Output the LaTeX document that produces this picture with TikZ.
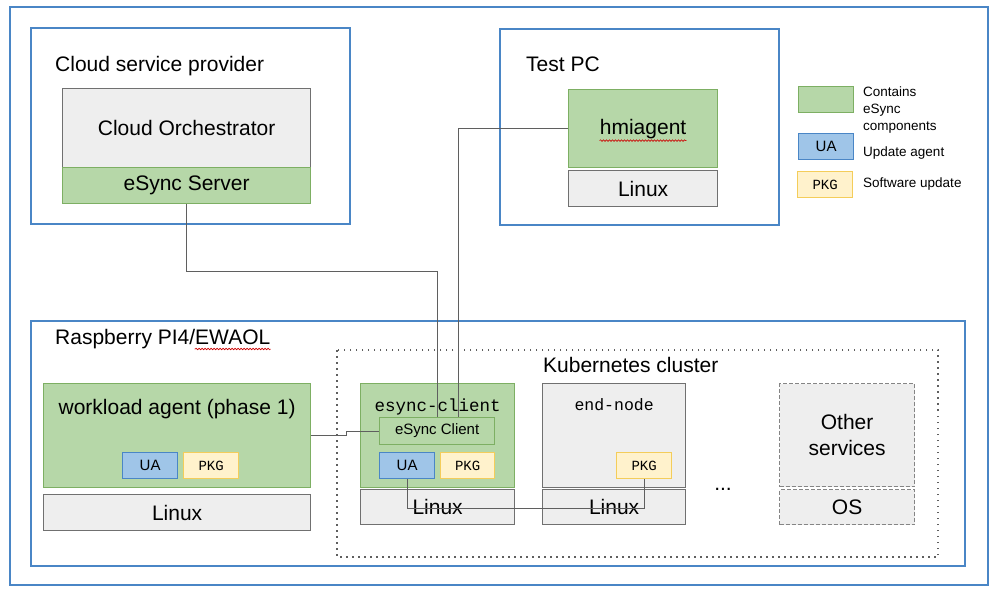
\documentclass[tikz,border=0pt]{standalone}
\usepackage{fontspec}
\setmainfont{Liberation Sans}
\setmonofont{Liberation Mono}
\usetikzlibrary{positioning,decorations.pathmorphing}
\definecolor{frameblue}{HTML}{4A86C6}
\definecolor{grnfill}{HTML}{B6D7A8}
\definecolor{grnline}{HTML}{7DAF63}
\definecolor{gryfill}{HTML}{EEEEEE}
\definecolor{gryline}{HTML}{707070}
\definecolor{uafill}{HTML}{9FC5E8}
\definecolor{ualine}{HTML}{4A86C6}
\definecolor{pkgfill}{HTML}{FFF2CC}
\definecolor{pkgline}{HTML}{F4CD5A}
\definecolor{wiregray}{HTML}{5F5F5F}

\begin{document}
\begin{tikzpicture}[x=1pt, y=-1pt,
    frame/.style={draw=frameblue, line width=2pt},
    blk/.style={anchor=north west, inner sep=0pt, line width=1.2pt, font=\fontsize{21}{25.7}\selectfont},
    grn/.style={blk, draw=grnline, fill=grnfill},
    gry/.style={blk, draw=gryline, fill=gryfill},
    ua/.style={blk, draw=ualine, fill=uafill, minimum width=55pt, minimum height=26pt, font=\fontsize{15}{18}\selectfont},
    pkg/.style={blk, draw=pkgline, fill=pkgfill, minimum width=55pt, minimum height=26pt, font=\ttfamily\fontsize{14}{16}\selectfont},
    dsh/.style={gry, draw=gryline!85, dash pattern=on 4pt off 2pt},
    wire/.style={draw=wiregray, line width=1pt},
    squig/.style={draw=red!80!black, line width=0.6pt, decorate, decoration={snake, segment length=3pt, amplitude=0.8pt}},
    ttl/.style={anchor=base west, inner sep=0pt, font=\fontsize{21}{25.7}\selectfont},
    leg/.style={inner sep=0pt, align=left, font=\fontsize{13.5}{16.8}\selectfont}]
    \useasboundingbox (0,0) rectangle (1003,593);
    \draw[frame] (10,7) rectangle (988,585);

    \draw[frame] (31,28) rectangle (350,224);
    \node[ttl] (cspt) at (55,72) {Cloud service provider};
    \node[gry, minimum width=248pt, minimum height=79pt] (orch) at (62,88) {Cloud Orchestrator};
    \node[grn, minimum width=248pt, minimum height=36pt] (esrv) at (62,167) {eSync Server};

    \draw[frame] (500,29) rectangle (779,225);
    \node[ttl] (pct) at (526,72) {Test PC};
    \node[grn, minimum width=149pt, minimum height=78pt] (hmi) at (568,89) {hmiagent};
    \draw[squig] ([xshift=-43.5pt, yshift=-12pt]hmi.center) -- ++(87,0);
    \node[gry, minimum width=149pt, minimum height=36pt] (hlin) at (568,170) {Linux};

    \node[grn, minimum width=55pt, minimum height=26pt] (lgg) at (798,86) {};
    \node[leg, anchor=north west] (lggt) at (863,87) {Contains\\eSync\\components};
    \node[ua] (lgu) at (798,133) {UA};
    \node[leg, anchor=base west] (lgut) at (863,157) {Update agent};
    \node[pkg] (lgp) at (797,171) {PKG};
    \node[leg, anchor=base west] (lgpt) at (863,188) {Software update};

    \draw[frame] (31,321) rectangle (965,566);
    \node[ttl] (rpit) at (55,344) {Raspberry PI4/EWAOL};
    \draw[squig] ([yshift=-5pt]rpit.base east) -- ++(-76,0);
    \draw[wiregray, line width=1.5pt, dash pattern=on 1.5pt off 4.5pt] (337,350) rectangle (938,557);
    \node[ttl] (k8st) at (543,372) {Kubernetes cluster};

    \node[grn, minimum width=267pt, minimum height=104pt] (wl) at (43,383) {};
    \path (wl.north) ++(0,31) node[anchor=base, font=\fontsize{21}{25.7}\selectfont] (wlt) {workload agent (phase 1)};
    \node[ua] (wua) at (122,452) {UA};
    \node[pkg] (wpkg) at (183,452) {PKG};
    \node[gry, minimum width=267pt, minimum height=36pt] (wlin) at (43,494) {Linux};

    \node[grn, minimum width=154pt, minimum height=104pt] (ec) at (360,383) {};
    \path (ec.north) ++(0,28) node[anchor=base, font=\ttfamily\fontsize{17.5}{20}\selectfont] (ect) {esync-client};
    \node[grn, minimum width=115pt, minimum height=27pt, font=\fontsize{15}{18}\selectfont] (ecl) at (379,417) {eSync Client};
    \node[ua] (eua) at (379,452) {UA};
    \node[pkg, minimum width=54pt] (epkg) at (440,452) {PKG};
    \node[gry, minimum width=154pt, minimum height=35pt] (elin) at (360,489) {Linux};

    \node[gry, minimum width=143pt, minimum height=104pt] (en) at (542,383) {};
    \path (en.north) ++(0,27) node[anchor=base, font=\ttfamily\fontsize{16.5}{20}\selectfont] (ent) {end-node};
    \node[pkg] (npkg) at (616,452) {PKG};
    \node[gry, minimum width=143pt, minimum height=35pt] (nlin) at (542,489) {Linux};

    \node[anchor=base, font=\fontsize{21}{25.7}\selectfont] (dots) at (723,490) {...};

    \node[dsh, minimum width=135pt, minimum height=103pt, align=center] (oth) at (779,383) {Other\\services};
    \node[dsh, minimum width=135pt, minimum height=35pt] (os) at (779,489) {OS};

    \draw[wire] (esrv.south) -- ++(0,67) -| (ecl.north);
    \draw[wire] (hmi.west) -| ([xshift=21.5pt]ecl.north);
    \draw[wire] (wl.east) -- ++(35,0) |- (ecl.west);
    \draw[wire] (eua.south) -- ++(0,29) -| (npkg.south);
\end{tikzpicture}
\end{document}
